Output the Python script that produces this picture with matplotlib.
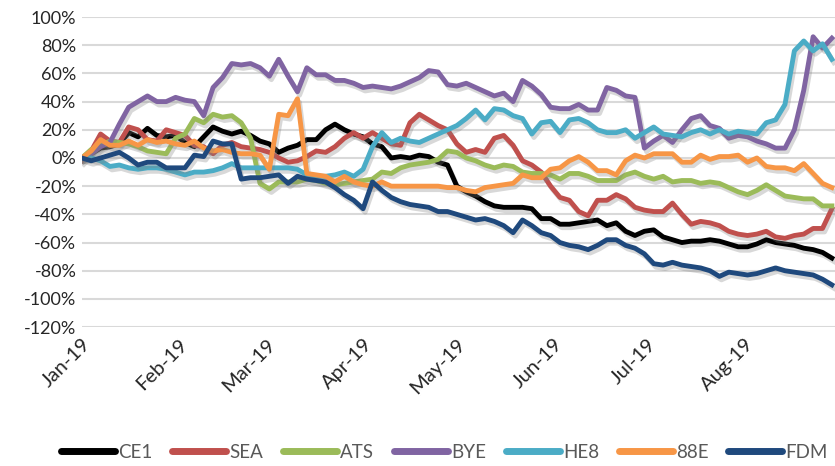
import matplotlib
matplotlib.use("Agg")
import matplotlib.pyplot as plt
import matplotlib.dates as mdates
import matplotlib.patheffects as pe
import pandas as pd

plt.rcParams['font.family'] = ['Lato', 'DejaVu Sans']

# === DATA (cumulative return, %) ===
dates = pd.date_range("2019-01-01", periods=81, freq="3D")

ce1 = [0, 3, 7, 8, 10, 18, 15, 21, 16, 15, 16, 11, 8, 15, 22, 19, 17, 19, 16, 12,
       10, 4, 7, 9, 13, 13, 20, 24, 20, 17, 15, 10, 8, 0, 1, 0, 2, 1, -3, -5,
       -20, -24, -27, -31, -34, -35, -35, -35, -36, -43, -43, -47, -47, -46, -45, -44, -48, -46, -52, -55,
       -52, -51, -56, -58, -60, -59, -59, -58, -59, -61, -63, -63, -61, -58, -60, -61, -62, -64, -65, -67,
       -71]
sea = [-2, 5, 17, 12, 11, 22, 20, 13, 12, 20, 18, 16, 9, 8, 3, 9, 11, 8, 7, 6,
       4, 0, -3, -2, 1, 5, 4, 8, 14, 18, 14, 18, 14, 10, 9, 25, 31, 27, 23, 20,
       10, 4, 6, 4, 14, 16, 9, -2, -5, -10, -20, -28, -30, -38, -41, -30, -30, -26, -29, -35,
       -37, -38, -38, -32, -40, -47, -45, -46, -48, -52, -54, -55, -54, -52, -56, -57, -55, -54, -50, -50,
       -36]
ats = [0, 6, 9, 12, 11, 10, 8, 5, 4, 3, 14, 17, 28, 25, 31, 29, 30, 25, 14, -18,
       -22, -17, -17, -17, -15, -16, -18, -19, -18, -17, -16, -15, -10, -11, -7, -5, -4, -3, -1, 5,
       4, 0, -2, -5, -7, -5, -6, -10, -11, -11, -12, -15, -11, -11, -13, -16, -16, -16, -12, -10,
       -13, -15, -13, -17, -16, -16, -18, -17, -18, -21, -24, -26, -23, -19, -23, -27, -28, -29, -29, -34,
       -34]
bye = [0, 3, 8, 11, 24, 36, 40, 44, 40, 40, 43, 41, 40, 30, 50, 57, 67, 66, 67, 64,
       58, 70, 58, 47, 64, 59, 59, 55, 55, 53, 50, 51, 50, 49, 51, 54, 57, 62, 61, 52,
       51, 53, 50, 47, 44, 46, 40, 55, 51, 45, 36, 35, 35, 38, 34, 34, 50, 48, 44, 43,
       7, 12, 16, 11, 20, 28, 30, 23, 21, 14, 16, 15, 12, 10, 7, 7, 20, 48, 86, 78,
       85]
he8 = [0, 0, -2, -6, -5, -7, -8, -7, -7, -8, -10, -12, -10, -10, -9, -7, -4, -7, -7, -7,
       -7, -7, -7, -8, -12, -13, -13, -12, -10, -13, -8, 8, 18, 11, 14, 12, 11, 14, 17, 20,
       23, 28, 34, 27, 35, 34, 30, 28, 17, 25, 26, 18, 27, 28, 25, 20, 18, 18, 20, 14,
       18, 22, 17, 16, 15, 18, 20, 17, 20, 17, 19, 18, 17, 25, 27, 38, 76, 83, 76, 81,
       70]
e88 = [0, 5, 13, 9, 9, 12, 9, 13, 11, 12, 10, 9, 12, 7, 5, 6, 4, 3, 3, 2,
       -8, 31, 30, 42, -11, -12, -13, -17, -13, -17, -19, -20, -17, -20, -20, -20, -20, -20, -20, -21,
       -21, -23, -24, -21, -20, -19, -18, -12, -14, -14, -8, -7, -2, 1, -3, -9, -9, -12, -2, 2,
       0, 3, 3, 3, -3, -3, 2, -1, 1, 1, 2, -3, 0, -6, -7, -7, -9, -4, -11, -18,
       -21]
fdm = [0, -2, 0, 2, 4, 0, -5, -3, -3, -7, -7, -7, 2, 1, 12, 10, 10, -15, -14, -14,
       -13, -12, -18, -13, -15, -16, -17, -21, -26, -30, -36, -17, -23, -28, -31, -33, -34, -35, -38, -38,
       -40, -42, -44, -43, -45, -48, -53, -44, -48, -53, -55, -60, -62, -63, -65, -62, -58, -58, -62, -64,
       -68, -75, -76, -74, -76, -77, -78, -80, -84, -81, -82, -83, -82, -80, -78, -80, -81, -82, -83, -86,
       -90]

names = ['CE1', 'SEA', 'ATS', 'BYE', 'HE8', '88E', 'FDM']
series = [ce1, sea, ats, bye, he8, e88, fdm]
colors = ['#000000', '#c0504d', '#9bbb59', '#8064a2', '#4bacc6', '#f79646', '#1f497d']

# === PLOT ===
fig = plt.figure(figsize=(8.35, 4.66), dpi=100)
ax = fig.add_axes([0.098, 0.298, 0.902, 0.6655])

shadow = [pe.SimpleLineShadow(offset=(1.5, -2.5), shadow_color='#808080', alpha=0.3),
          pe.Normal()]
for name, vals, col in zip(names, series, colors):
    ax.plot(dates, [v / 100 for v in vals], color=col, lw=3.5, label=name,
            solid_joinstyle='round', path_effects=shadow)

ax.set_ylim(-1.2, 1.0)
ax.set_yticks([i / 10 for i in range(-12, 11, 2)])
ax.yaxis.set_major_formatter(matplotlib.ticker.FuncFormatter(lambda v, p: f"{v*100:.0f}%"))
ax.set_xlim(pd.Timestamp("2019-01-01"), pd.Timestamp("2019-08-30"))
ax.xaxis.set_major_locator(mdates.MonthLocator())
ax.xaxis.set_major_formatter(mdates.DateFormatter('%b-%y'))

ax.grid(axis='y', color='#d9d9d9', lw=1.5)
ax.set_axisbelow(True)
for s in ax.spines.values():
    s.set_visible(False)
ax.tick_params(length=0, colors='#262626', labelsize=13)
ax.tick_params(axis='y', pad=4)
ax.tick_params(axis='x', labelsize=14.5, pad=6)
for lbl in ax.get_xticklabels():
    lbl.set_rotation(45)
    lbl.set_ha('right')
    lbl.set_va('top')
    lbl.set_rotation_mode('anchor')

leg = fig.legend(loc='lower center', bbox_to_anchor=(0.532, -0.025), ncol=7, frameon=False,
                 fontsize=13.5, handlelength=2.9, columnspacing=1.05, handletextpad=0.15,
                 labelcolor='#595959')
for h in leg.get_lines():
    h.set_linewidth(5)
    h.set_solid_capstyle('round')
    h.set_path_effects([])

fig.savefig('out.png', dpi=100)
